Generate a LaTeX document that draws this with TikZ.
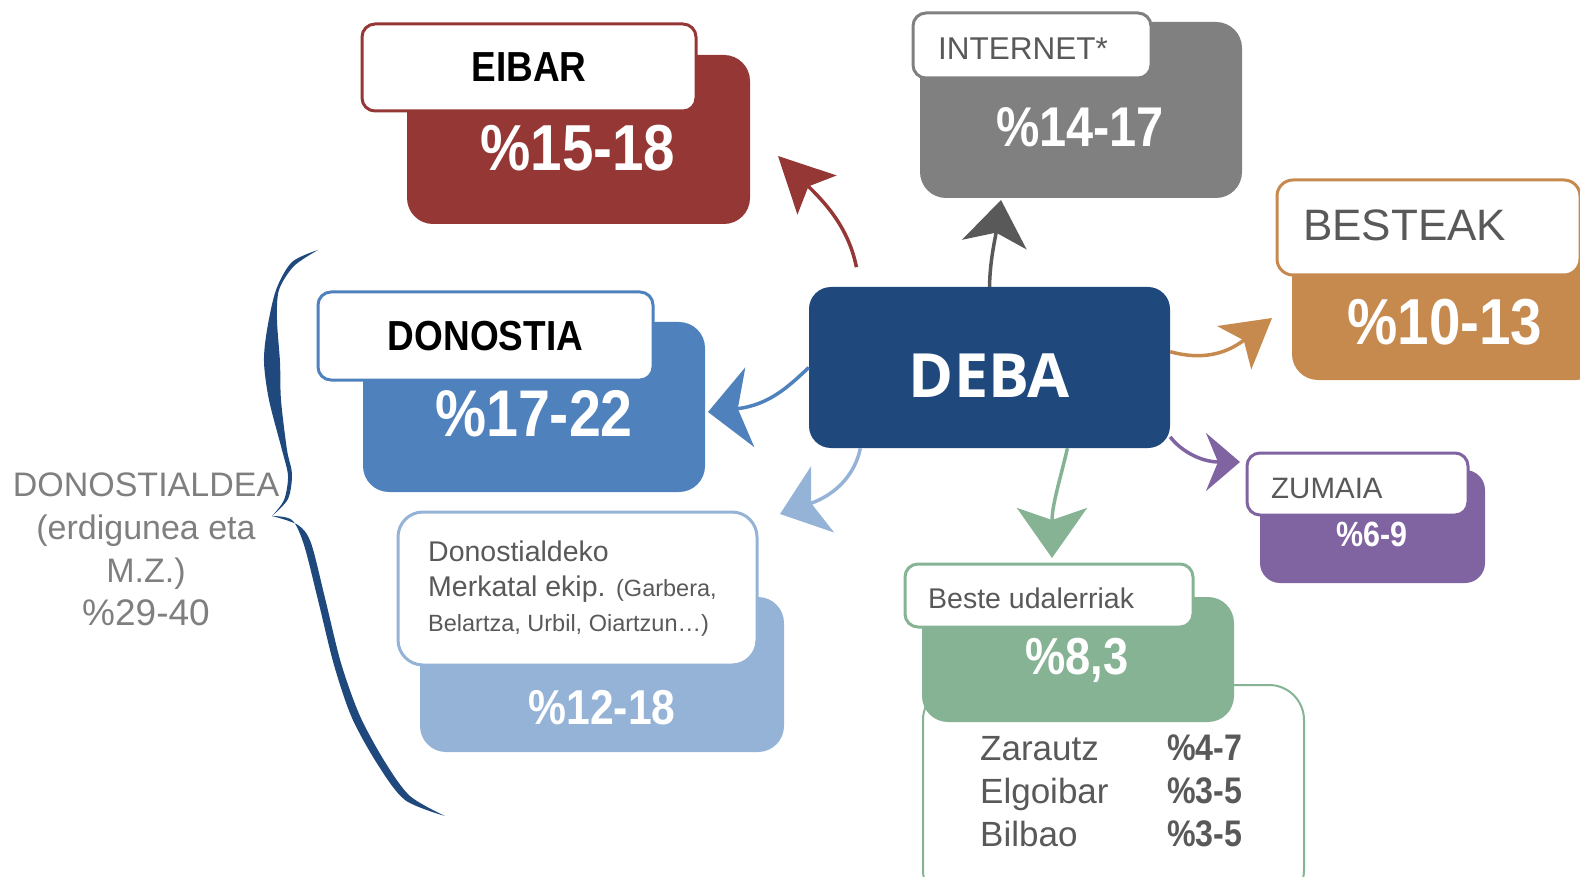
\documentclass[tikz,border=0pt]{standalone}
\usepackage{fontspec}
\setmainfont{Liberation Sans}
\newfontfamily\pctfont{Liberation Sans}[FakeStretch=0.87]
\newfontfamily\capfont{Liberation Sans}[FakeStretch=0.88]
\newfontfamily\debafont{Open Sans}
\usepackage{xcolor}
\usetikzlibrary{arrows.meta}

\definecolor{debablue}{HTML}{1F497D}
\definecolor{donblue}{HTML}{4F81BD}
\definecolor{aldblue}{HTML}{95B3D7}
\definecolor{eibarred}{HTML}{953735}
\definecolor{netgray}{HTML}{808080}
\definecolor{netdark}{HTML}{595959}
\definecolor{bestorange}{HTML}{C68A4E}
\definecolor{zumpurple}{HTML}{8064A2}
\definecolor{locgreen}{HTML}{85B394}
\definecolor{txtgray}{HTML}{595959}
\definecolor{reggray}{HTML}{7F7F7F}

\newcommand\fsz[1]{\fontsize{#1}{#1}\selectfont}

\begin{document}
\begin{tikzpicture}[x=1pt, y=-1pt,
  back/.style={rounded corners=26pt, inner sep=0pt},
  lab/.style={draw, line width=3pt, fill=white, rounded corners=13pt, inner sep=0pt},
  pct/.style={inner sep=0pt, text=white, font=\pctfont\bfseries\fsz{#1}},
  txt/.style={inner sep=0pt, text=txtgray, font=\fsz{#1}},
  flow/.style n args={3}{draw=#1, line width=3.5pt, -{Stealth[length=#2pt, width=#3pt, inset=12pt]}}
]
\useasboundingbox (0,0) rectangle (1580,877);

% EIBAR
\node[back, fill=eibarred, minimum width=343pt, minimum height=169pt] (eibarbk) at (578.5,139.5) {};
\node[lab, draw=eibarred, minimum width=334pt, minimum height=87pt, font=\capfont\bfseries\fsz{42}] (eibar) at (529,67.5) {EIBAR};
\node[pct=65] (eibarpct) at (578,148) {\%15-18};

% INTERNET
\node[back, fill=netgray, minimum width=322pt, minimum height=176pt] (netbk) at (1081,110) {};
\node[lab, draw=netgray, minimum width=238pt, minimum height=65pt] (net) at (1032,45.5) {};
\node[txt=31.5, anchor=base west] (netname) at (938,60) {INTERNET*};
\node[pct=56] (netpct) at (1080,127) {\%14-17};

% BESTEAK
\node[back, fill=bestorange, minimum width=310pt, minimum height=185pt] (bestbk) at (1447,287.5) {};
\node[lab, draw=bestorange, rounded corners=16pt, minimum width=303pt, minimum height=95pt] (best) at (1428.5,227.5) {};
\node[txt=44, anchor=base west] (bestname) at (1303,241) {BESTEAK};
\node[pct=65] (bestpct) at (1445,322) {\%10-13};

% ZUMAIA
\node[back, fill=zumpurple, rounded corners=20pt, minimum width=225pt, minimum height=113pt] (zumbk) at (1372.5,526.5) {};
\node[lab, draw=zumpurple, minimum width=221pt, minimum height=62pt] (zum) at (1357.5,484) {};
\node[txt=29.5, anchor=base west] (zumname) at (1271,498) {ZUMAIA};
\node[pct=35] (zumpct) at (1372,534) {\%6-9};

% DONOSTIA
\node[back, fill=donblue, minimum width=342pt, minimum height=170pt] (donbk) at (534,407) {};
\node[lab, draw=donblue, minimum width=335pt, minimum height=88pt, font=\capfont\bfseries\fsz{42}] (don) at (485.5,336) {DONOSTIA};
\node[pct=66] (donpct) at (534,414) {\%17-22};

% Donostialdeko merkatal ekipamenduak
\node[back, fill=aldblue, minimum width=364pt, minimum height=155pt] (aldbk) at (602,674.5) {};
\node[lab, draw=aldblue, rounded corners=25pt, minimum width=359pt, minimum height=153pt] (ald) at (577.5,588.5) {};
\node[txt=28, anchor=north west, align=left, font=\fontsize{28.5}{35}\selectfont] (aldname) at (428,541)
  {Donostialdeko\\Merkatal ekip. {\fontsize{23.5}{35}\selectfont(Garbera,}\\{\fontsize{23.5}{35}\selectfont Belartza, Urbil, Oiartzun…)}};
\node[pct=49] (aldpct) at (602,708) {\%12-18};

% Beste udalerriak
\node[draw=locgreen, line width=2pt, rounded corners=35pt, minimum width=381pt, minimum height=220pt] (locbox) at (1113.5,795) {};
\node[back, fill=locgreen, minimum width=312pt, minimum height=125pt] (locbk) at (1078,659.5) {};
\node[lab, draw=locgreen, minimum width=288pt, minimum height=63pt] (loc) at (1049,595.5) {};
\node[txt=28.5, anchor=base west] (locname) at (928,608) {Beste udalerriak};
\node[pct=52] (locpct) at (1077,660) {\%8,3};
\node[txt=35, anchor=base west] (town1) at (980,760) {Zarautz};
\node[txt=35, anchor=base west] (town2) at (980,803) {Elgoibar};
\node[txt=35, anchor=base west] (town3) at (980,846) {Bilbao};
\node[pct=37, text=txtgray, anchor=base west] (val1) at (1167,760) {\%4-7};
\node[pct=37, text=txtgray, anchor=base west] (val2) at (1167,803) {\%3-5};
\node[pct=37, text=txtgray, anchor=base west] (val3) at (1167,846) {\%3-5};

% DEBA
\node[back, fill=debablue, rounded corners=22pt, minimum width=361pt, minimum height=161pt,
  text height=60pt, text depth=0pt, text=white, font=\debafont\bfseries\fsz{61}] (deba) at (989.5,367.5) {DEBA};

% DONOSTIALDEA brace and label
\fill[debablue] plot[smooth] coordinates {(318,250) (292,262) (276,290) (267,330) (264,362) (269,400) (282,450) (288,476) (284,500) (272,516)}
  -- plot[smooth] coordinates {(272,516) (288,499) (292,474) (287,450) (281,400) (280,362) (277,320) (279,290) (294,266) (318,250)} -- cycle;
\fill[debablue] plot[smooth] coordinates {(272,516) (292,520) (304,545) (318,600) (334,665) (352,718) (378,765) (405,800) (445,816)}
  -- plot[smooth] coordinates {(445,816) (410,796) (385,762) (360,716) (341,663) (325,598) (311,543) (298,525) (272,516)} -- cycle;
\node[inner sep=0pt, text=reggray, align=center, font=\fontsize{34}{43}\selectfont] (region) at (146,549)
  {DONOSTIALDEA\\(erdigunea eta\\M.Z.)\\{\fontsize{37}{43}\selectfont\%29-40}};

% arrows out of DEBA
\coordinate (tEibar) at (778,156);
\coordinate (tNet) at (1001,200);
\coordinate (tDon) at (708,412);
\coordinate (tAld) at (780,514);
\coordinate (tBest) at (1272,318);
\coordinate (tZum) at (1240,462);
\coordinate (tLoc) at (1052,558);
\draw[flow={eibarred}{55}{55}, shorten <=20pt] (deba.148) .. controls (848,225) and (822,200) .. (tEibar);
\draw[flow={netdark}{45}{65}] (deba.north) .. controls (990,260) and (995,240) .. (tNet);
\draw[flow={donblue}{42}{80}] (deba.west) .. controls (790,385) and (770,405) .. (tDon);
\draw[flow={aldblue}{45}{70}] (deba.212) .. controls (855,475) and (835,495) .. (tAld);
\draw[flow={bestorange}{48}{55}] (deba.5) .. controls (1200,360) and (1225,355) .. (tBest);
\draw[flow={zumpurple}{34}{58}] (deba.-21) .. controls (1180,450) and (1200,462) .. (tZum);
\draw[flow={locgreen}{50}{70}] (deba.-46) .. controls (1060,480) and (1052,505) .. (tLoc);
\end{tikzpicture}
\end{document}
